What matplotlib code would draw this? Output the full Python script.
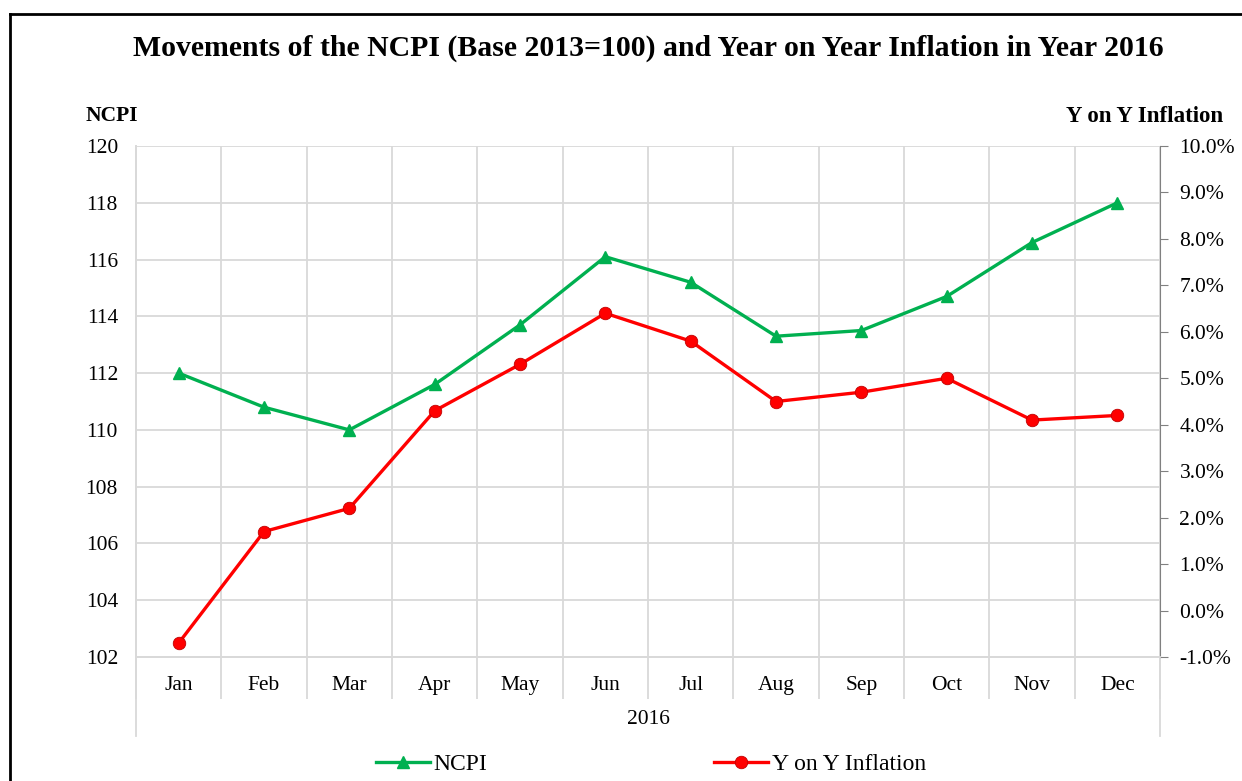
import numpy as np
import matplotlib
matplotlib.use('Agg')
import matplotlib.pyplot as plt
from matplotlib.lines import Line2D
from matplotlib.ticker import FuncFormatter

months = ['Jan', 'Feb', 'Mar', 'Apr', 'May', 'Jun', 'Jul', 'Aug', 'Sep', 'Oct', 'Nov', 'Dec']
ncpi = [112.0, 110.8, 110.0, 111.6, 113.7, 116.1, 115.2, 113.3, 113.5, 114.7, 116.6, 118.0]
yoy_inflation = [-0.7, 1.7, 2.2, 4.3, 5.3, 6.4, 5.8, 4.5, 4.7, 5.0, 4.1, 4.2]
year_label = '2016'

plt.rcParams['font.family'] = ['Liberation Serif', 'DejaVu Serif']
grid_col = '#d9d9d9'
tick_fs = 15.5

fig = plt.figure(figsize=(12.42, 7.81), dpi=100)
ax = fig.add_axes([136 / 1242, 1 - 657 / 781, (1160 - 136) / 1242, (657 - 146) / 781])
ax2 = ax.twinx()

x = np.arange(len(months))
l1, = ax.plot(x, ncpi, color='#00b050', lw=2.4, marker='^', ms=9, label='NCPI')
l2, = ax2.plot(x, yoy_inflation, color='#ff0000', lw=2.4, marker='o', ms=9,
               markeredgecolor='#c00000', markeredgewidth=0.6, label='Y on Y Inflation')

ax.set_xlim(-0.5, len(months) - 0.5)
ax.set_ylim(102, 120)
ax.set_yticks(np.arange(102, 121, 2))
ax2.set_ylim(-1, 10)
ax2.set_yticks(np.arange(-1, 11, 1))
ax2.yaxis.set_major_formatter(FuncFormatter(lambda v, p: '%.1f%%' % v))

# grid: horizontal lines and category separators
ax.yaxis.grid(True, color=grid_col, lw=1.3)
ax.set_xticks(x)
ax.set_xticklabels(months)
ax.set_xticks(np.arange(-0.5, len(months), 1), minor=True)
ax.xaxis.grid(True, which='minor', color=grid_col, lw=1.3)
ax.tick_params(axis='x', which='major', length=0, pad=14, labelsize=tick_fs)
ax.tick_params(axis='x', which='minor', length=30, color=grid_col, width=1.3, direction='out')
ax.tick_params(axis='y', length=0, pad=13, labelsize=tick_fs)
ax2.tick_params(axis='y', length=6, color='#808080', pad=8, labelsize=tick_fs)
for a in (ax, ax2):
    a.spines['top'].set_visible(False)
    a.spines['left'].set_color(grid_col)
    a.spines['left'].set_linewidth(1.3)
    a.spines['bottom'].set_color(grid_col)
    a.spines['bottom'].set_linewidth(1.3)
    a.spines['right'].set_color('#808080')
ax.spines['right'].set_visible(False)

# outer separators for the year level
for xb in (-0.5, len(months) - 0.5):
    ax.axvline(xb, ymin=-0.155, ymax=0, color=grid_col, lw=1.3, clip_on=False)
ax.text((len(months) - 1) / 2, -0.122, year_label, transform=ax.get_xaxis_transform(),
        ha='center', va='center', fontsize=tick_fs)

fig.text(648 / 1242, 1 - 48 / 781, 'Movements of the NCPI (Base 2013=100) and Year on Year Inflation in Year 2016',
         ha='center', va='center', fontsize=21.4, fontweight='bold')
fig.text(86 / 1242, 1 - 116 / 781, 'NCPI', ha='left', va='center', fontsize=15.5, fontweight='bold')
fig.text(1223 / 1242, 1 - 116 / 781, 'Y on Y Inflation', ha='right', va='center', fontsize=16.5, fontweight='bold')

fig.legend([l1, l2], ['NCPI', 'Y on Y Inflation'], loc='center', bbox_to_anchor=(0.524, 1 - 764 / 781),
           ncol=2, frameon=False, fontsize=17, columnspacing=9.6, handlelength=2.3, handletextpad=0.15)

# chart border (left and top edges visible)
fig.add_artist(Line2D([10 / 1242, 10 / 1242], [0, 1 - 14 / 781], color='black', lw=2))
fig.add_artist(Line2D([10 / 1242, 1], [1 - 14 / 781, 1 - 14 / 781], color='black', lw=2))

fig.savefig('out.png', dpi=100)
